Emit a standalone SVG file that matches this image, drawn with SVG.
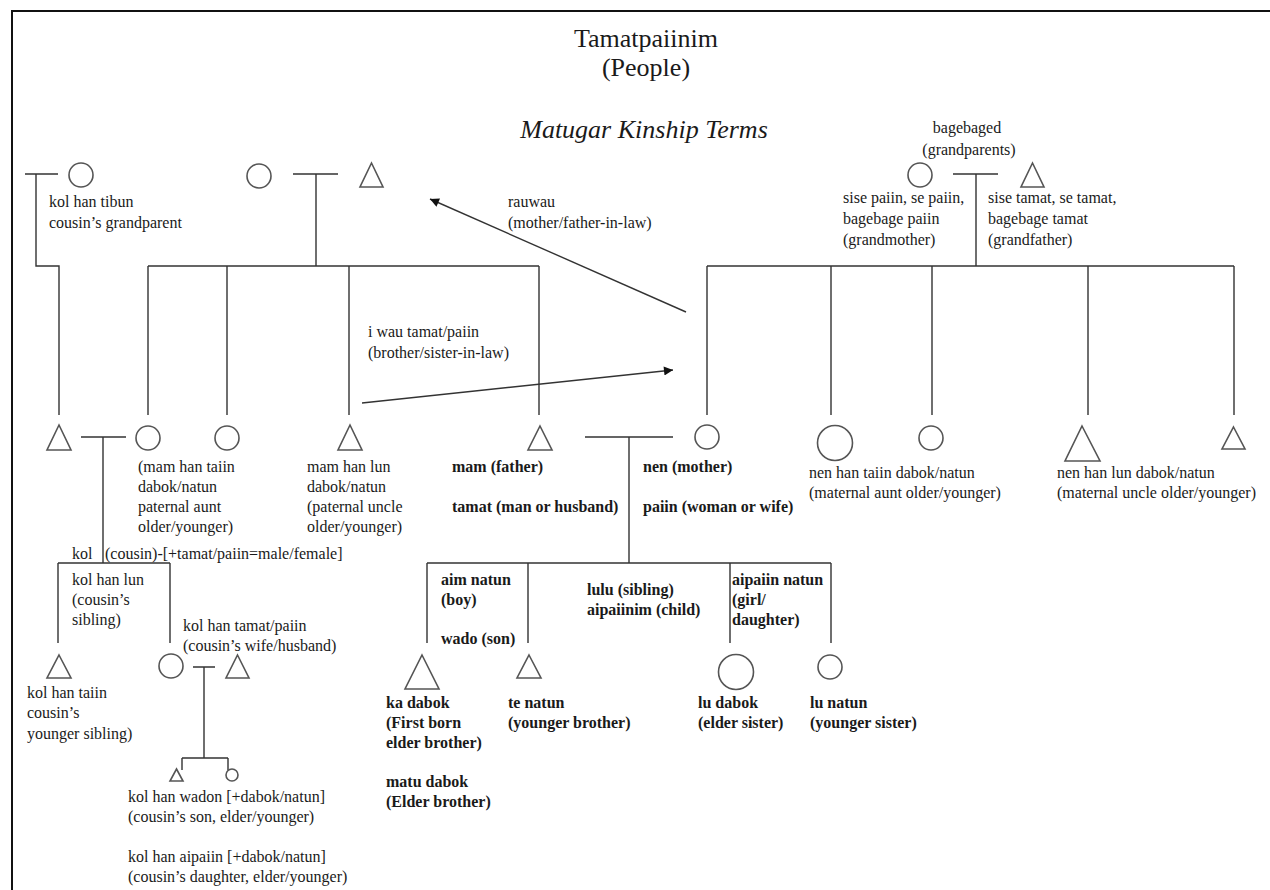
<svg xmlns="http://www.w3.org/2000/svg" width="1270" height="890" viewBox="0 0 1270 890">
<style>
.t{font-family:"Liberation Serif","Times New Roman",serif;font-size:16px;fill:#1a1a1a}
.h{font-size:26px}
.i{font-style:italic}
.b{font-weight:bold}
.ln{stroke:#333;stroke-width:1.4;fill:none}
.sh{stroke:#555;stroke-width:1.6;fill:#fff}
</style>
<defs>
<marker id="ah" viewBox="0 0 10 10" refX="10" refY="5" markerWidth="12" markerHeight="9" markerUnits="userSpaceOnUse" orient="auto"><path d="M0,0 L10,5 L0,10 z" fill="#111"/></marker>
</defs>
<rect width="1270" height="890" fill="#fff"/>
<path d="M12,890 V11 H1270" stroke="#111" stroke-width="2" fill="none"/>

<g id="title">
<text class="t h" x="646" y="47" text-anchor="middle">Tamatpaiinim</text>
<text class="t h" x="646" y="76" text-anchor="middle">(People)</text>
<text class="t h i" x="644" y="138" text-anchor="middle">Matugar Kinship Terms</text>
</g>

<g id="connectors">
<path class="ln" d="M25,174 H58 M36,174 V266 H59 V415"/>
<path class="ln" d="M293,174 H338 M316,174 V266 M148,266 H539 M148,266 V415 M227,266 V415 M349,266 V415 M539,266 V415"/>
<path class="ln" d="M953,174 H998 M976,174 V266 M707,266 H1234 M707,266 V415 M831,266 V415 M932,266 V415 M1088,266 V415 M1234,266 V415"/>
<path class="ln" d="M81,437 H126 M103,437 V563 M58,563 H170 M58,563 V643 M170,563 V643"/>
<path class="ln" d="M193,667 H215 M204,667 V758 M182,758 H228 M182,758 V770 M228,758 V770"/>
<path class="ln" d="M585,437 H673 M629,437 V563 M427,563 H831 M427,563 V643 M528,563 V643 M730,563 V643 M831,563 V643"/>
<line class="ln" x1="686" y1="312" x2="430" y2="199" marker-end="url(#ah)"/>
<line class="ln" x1="362" y1="403" x2="673" y2="370" marker-end="url(#ah)"/>
</g>

<g id="labels-arrows">
<text class="t" x="508" y="207">rauwau</text>
<text class="t" x="508" y="228">(mother/father-in-law)</text>
<text class="t" x="368" y="337">i wau tamat/paiin</text>
<text class="t" x="368" y="358">(brother/sister-in-law)</text>
</g>

<g id="cousin-grandparent">
<circle class="sh" cx="81" cy="175" r="12"/>
<text class="t" x="49" y="207">kol han tibun</text>
<text class="t" x="49" y="228">cousin’s grandparent</text>
</g>

<g id="paternal-grandmother"><circle class="sh" cx="259" cy="176" r="12"/></g>
<g id="paternal-grandfather"><path class="sh" d="M371.5,163 L383,187 H360 Z"/></g>

<g id="grandmother">
<circle class="sh" cx="920" cy="175" r="12"/>
<text class="t" x="843" y="203">sise paiin, se paiin,</text>
<text class="t" x="843" y="224">bagebage paiin</text>
<text class="t" x="843" y="245">(grandmother)</text>
</g>
<g id="grandparents-label">
<text class="t" x="967" y="133" text-anchor="middle">bagebaged</text>
<text class="t" x="969" y="155" text-anchor="middle">(grandparents)</text>
</g>
<g id="grandfather">
<path class="sh" d="M1032.5,163 L1044,187 H1021 Z"/>
<text class="t" x="988" y="203">sise tamat, se tamat,</text>
<text class="t" x="988" y="224">bagebage tamat</text>
<text class="t" x="988" y="245">(grandfather)</text>
</g>

<g id="cousin-parent"><path class="sh" d="M59,425 L71,450 H47 Z"/></g>
<g id="paternal-aunt-1">
<circle class="sh" cx="148" cy="438" r="12"/>
<text class="t" x="138" y="472">(mam han taiin</text>
<text class="t" x="138" y="492">dabok/natun</text>
<text class="t" x="138" y="512">paternal aunt</text>
<text class="t" x="138" y="532">older/younger)</text>
</g>
<g id="paternal-aunt-2"><circle class="sh" cx="227" cy="438" r="12"/></g>
<g id="paternal-uncle">
<path class="sh" d="M350,425 L362,450 H338 Z"/>
<text class="t" x="307" y="472">mam han lun</text>
<text class="t" x="307" y="492">dabok/natun</text>
<text class="t" x="307" y="512">(paternal uncle</text>
<text class="t" x="307" y="532">older/younger)</text>
</g>
<g id="father">
<path class="sh" d="M540,426 L552,450 H528 Z"/>
<text class="t b" x="452" y="472">mam (father)</text>
<text class="t b" x="452" y="512">tamat (man or husband)</text>
</g>
<g id="mother">
<circle class="sh" cx="707" cy="437" r="12"/>
<text class="t b" x="643" y="472">nen (mother)</text>
<text class="t b" x="643" y="512">paiin (woman or wife)</text>
</g>
<g id="maternal-aunt-1">
<circle class="sh" cx="835" cy="443" r="17.5"/>
<text class="t" x="809" y="478">nen han taiin dabok/natun</text>
<text class="t" x="809" y="498">(maternal aunt older/younger)</text>
</g>
<g id="maternal-aunt-2"><circle class="sh" cx="931" cy="438" r="12"/></g>
<g id="maternal-uncle-1">
<path class="sh" d="M1082,426 L1100,461 H1065 Z"/>
<text class="t" x="1057" y="478">nen han lun dabok/natun</text>
<text class="t" x="1057" y="498">(maternal uncle older/younger)</text>
</g>
<g id="maternal-uncle-2"><path class="sh" d="M1233.5,427 L1245,449 H1222 Z"/></g>

<g id="cousin-label">
<text class="t" x="72" y="559">kol<tspan x="105">(cousin)-[+tamat/paiin=male/female]</tspan></text>
<text class="t" x="72" y="585">kol han lun</text>
<text class="t" x="72" y="605">(cousin’s</text>
<text class="t" x="72" y="625">sibling)</text>
</g>
<g id="cousin-younger-sibling">
<path class="sh" d="M59,655 L71,678 H47 Z"/>
<text class="t" x="27" y="698">kol han taiin</text>
<text class="t" x="27" y="718">cousin’s</text>
<text class="t" x="27" y="739">younger sibling)</text>
</g>
<g id="cousin">
<circle class="sh" cx="171" cy="666" r="12"/>
</g>
<g id="cousin-spouse">
<path class="sh" d="M237.5,655 L249,678 H226 Z"/>
<text class="t" x="183" y="631">kol han tamat/paiin</text>
<text class="t" x="183" y="651">(cousin’s wife/husband)</text>
</g>
<g id="cousin-son"><path class="sh" d="M176.5,769 L183,781 H170 Z"/></g>
<g id="cousin-daughter"><circle class="sh" cx="232" cy="775" r="6"/></g>
<g id="cousin-children-label">
<text class="t" x="128" y="802">kol han wadon [+dabok/natun]</text>
<text class="t" x="128" y="822">(cousin’s son, elder/younger)</text>
<text class="t" x="128" y="862">kol han aipaiin [+dabok/natun]</text>
<text class="t" x="128" y="882">(cousin’s daughter, elder/younger)</text>
</g>

<g id="children-labels">
<text class="t b" x="441" y="585">aim natun</text>
<text class="t b" x="441" y="605">(boy)</text>
<text class="t b" x="441" y="644">wado (son)</text>
<text class="t b" x="587" y="595">lulu (sibling)</text>
<text class="t b" x="587" y="615">aipaiinim (child)</text>
<text class="t b" x="732" y="585">aipaiin natun</text>
<text class="t b" x="732" y="605">(girl/</text>
<text class="t b" x="732" y="625">daughter)</text>
</g>
<g id="elder-brother">
<path class="sh" d="M422,655 L439,689 H405 Z"/>
<text class="t b" x="386" y="708">ka dabok</text>
<text class="t b" x="386" y="728">(First born</text>
<text class="t b" x="386" y="748">elder brother)</text>
<text class="t b" x="386" y="787">matu dabok</text>
<text class="t b" x="386" y="807">(Elder brother)</text>
</g>
<g id="younger-brother">
<path class="sh" d="M529,655 L541,678 H517 Z"/>
<text class="t b" x="508" y="708">te natun</text>
<text class="t b" x="508" y="728">(younger brother)</text>
</g>
<g id="elder-sister">
<circle class="sh" cx="736" cy="672" r="17.5"/>
<text class="t b" x="698" y="708">lu dabok</text>
<text class="t b" x="698" y="728">(elder sister)</text>
</g>
<g id="younger-sister">
<circle class="sh" cx="830" cy="667" r="12"/>
<text class="t b" x="810" y="708">lu natun</text>
<text class="t b" x="810" y="728">(younger sister)</text>
</g>
</svg>
